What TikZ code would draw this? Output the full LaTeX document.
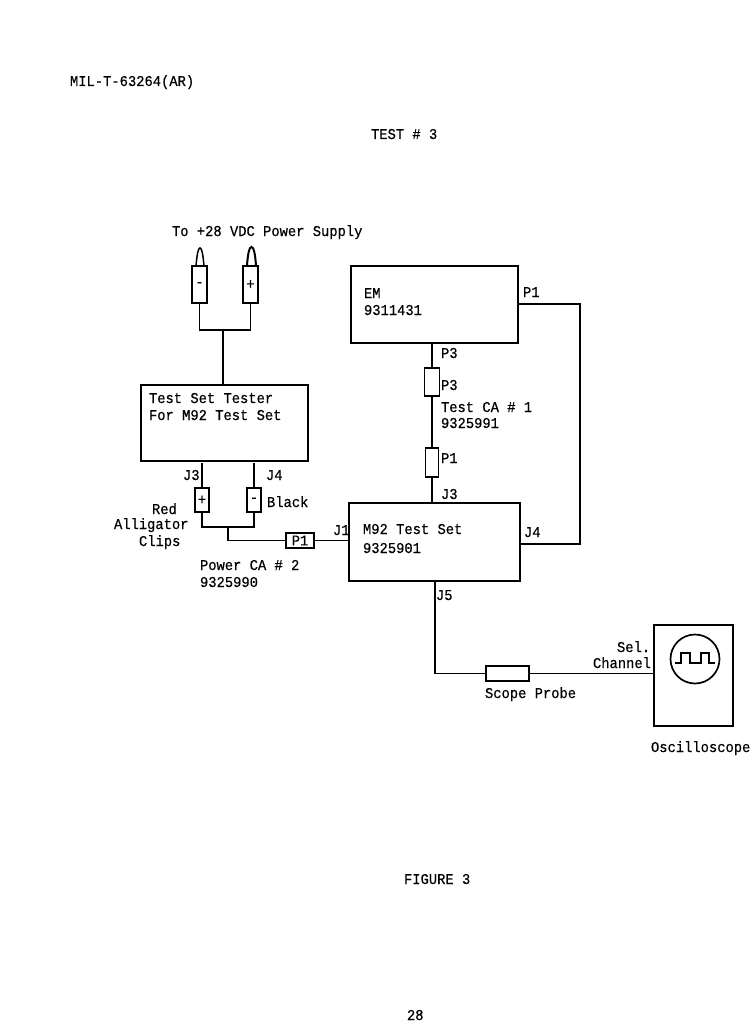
\documentclass[tikz,border=0pt]{standalone}
\usepackage{fontspec}
\setmainfont[FakeStretch=0.92,FakeBold=0.4]{Liberation Mono}
\tikzset{
  txt/.style={anchor=base west,inner sep=0pt,outer sep=0pt,font=\fontsize{15}{16}\selectfont},
  box/.style={draw,line width=1.5pt,inner sep=0pt,outer sep=0pt,minimum width=#1},
  wire/.style={line width=1.5pt},
  plug/.style={draw,line width=1.5pt,inner sep=0pt,outer sep=0pt,font=\fontsize{15}{16}\selectfont},
}
\newcommand{\rect}[6][]{\node[box=#4pt,minimum height=#5pt,#1] (#2) at (#3) {#6};}
\begin{document}
\begin{tikzpicture}[x=1pt,y=-1pt]
\useasboundingbox[fill=white] (0,0) rectangle (750,1022);
% page text
\node[txt] (hdr) at (70,86) {MIL-T-63264(AR)};
\node[txt] (ttl) at (371,139) {TEST \# 3};
\node[txt] (fig) at (404,884) {FIGURE 3};
\node[txt] (pg) at (407,1020) {28};
\node[txt] (sup) at (172,236) {To +28 VDC Power Supply};
% main boxes
\rect{em}{434.5,304.5}{167}{77}{}
\rect{tester}{224.5,423}{167}{76}{}
\rect{m92}{434.5,542}{171}{78}{}
\rect{osc}{693.5,675.5}{79}{101}{}
% supply plugs
\rect[plug]{pm}{199.5,284.5}{15}{37}{-}
\rect[plug]{pp}{250.5,284.5}{15}{37}{+}
\draw[wire] (196,266) .. controls (197,255) and (198,248) .. (200,248) .. controls (202,248) and (203,255) .. (204,266);
\draw[wire,line width=2pt] (247,265) .. controls (248,254) and (249,247) .. (251.5,247) .. controls (254,247) and (255,254) .. (256,265);
\coordinate (supjoin) at (223,330);
\draw[wire] (pm.south) -- (pm.south |- supjoin) -- (pp.south |- supjoin) -- (pp.south);
\draw[wire] (supjoin) -- (supjoin |- tester.north);
% alligator clips
\rect[plug]{cr}{202,500}{14}{24}{+}
\rect[plug]{cb}{254,500}{14}{24}{-}
\rect[plug]{cp}{300,540.5}{28}{15}{\raisebox{-1.5pt}{P1}}
\coordinate (clipjoin) at (228,527);
\draw[wire,shorten <=2pt] (tester.south -| cr.north) -- (cr.north);
\draw[wire,shorten <=2pt] (tester.south -| cb.north) -- (cb.north);
\draw[wire] (cr.south) -- (cr.south |- clipjoin) -- (cb.south |- clipjoin) -- (cb.south);
\draw[wire] (clipjoin) |- (cp.west);
\draw[wire] (cp.east) -- (cp.east -| m92.west);
% test cable
\rect[plug]{c3}{432,382}{15}{28}{}
\rect[plug]{c1}{432,462.5}{13}{29}{}
\draw[wire,line width=1.8pt] (em.south -| c3.north) -- (c3.north);
\draw[wire] (c3.south) -- (c1.north);
\draw[wire] (c1.south) -- (c1.south |- m92.north);
% EM P1 to M92 J4
\coordinate (rtop) at (580,304);
\coordinate (rbot) at (580,544);
\draw[wire] (rtop -| em.east) -- (rtop) -- (rbot) -- (rbot -| m92.east);
% scope probe
\rect[plug]{pr}{507.5,673.5}{43}{15}{}
\coordinate (jfive) at (435,581);
\draw[wire,line width=1.7pt] (jfive) |- (pr.west);
\draw[wire] (pr.east) -- (pr.east -| osc.west);
% oscilloscope screen
\node[draw,circle,line width=1.7pt,minimum size=49pt,inner sep=0pt] (scr) at (695,659) {};
\draw[line width=1.6pt] (675,663) -- (681,663) -- (681,653) -- (690,653) -- (690,663) -- (701,663) -- (701,653) -- (709,653) -- (709,663) -- (715,663);
% labels
\node[txt] (t1) at (364,298) {EM};
\node[txt] (t2) at (364,315) {9311431};
\node[txt] (t3) at (523,297) {P1};
\node[txt] (t4) at (441,358) {P3};
\node[txt] (t5) at (441,390) {P3};
\node[txt] (t6) at (441,412) {Test CA \# 1};
\node[txt] (t7) at (441,428) {9325991};
\node[txt] (t8) at (441,463) {P1};
\node[txt] (t9) at (441,499) {J3};
\node[txt] (t10) at (149,403) {Test Set Tester};
\node[txt] (t11) at (149,420) {For M92 Test Set};
\node[txt] (t12) at (183,480) {J3};
\node[txt] (t13) at (266,480) {J4};
\node[txt] (t14) at (267,507) {Black};
\node[txt] (t15) at (152,514) {Red};
\node[txt] (t16) at (114,529) {Alligator};
\node[txt] (t17) at (139,546) {Clips};
\node[txt] (t18) at (333,535) {J1};
\node[txt] (t19) at (200,570) {Power CA \# 2};
\node[txt] (t20) at (200,587) {9325990};
\node[txt] (t21) at (363,534) {M92 Test Set};
\node[txt] (t22) at (363,553) {9325901};
\node[txt] (t23) at (524,537) {J4};
\node[txt] (t24) at (436,600) {J5};
\node[txt] (t25) at (617,652) {Sel.};
\node[txt] (t26) at (593,668) {Channel};
\node[txt] (t27) at (485,698) {Scope Probe};
\node[txt] (t28) at (651,752) {Oscilloscope};
\end{tikzpicture}
\end{document}
